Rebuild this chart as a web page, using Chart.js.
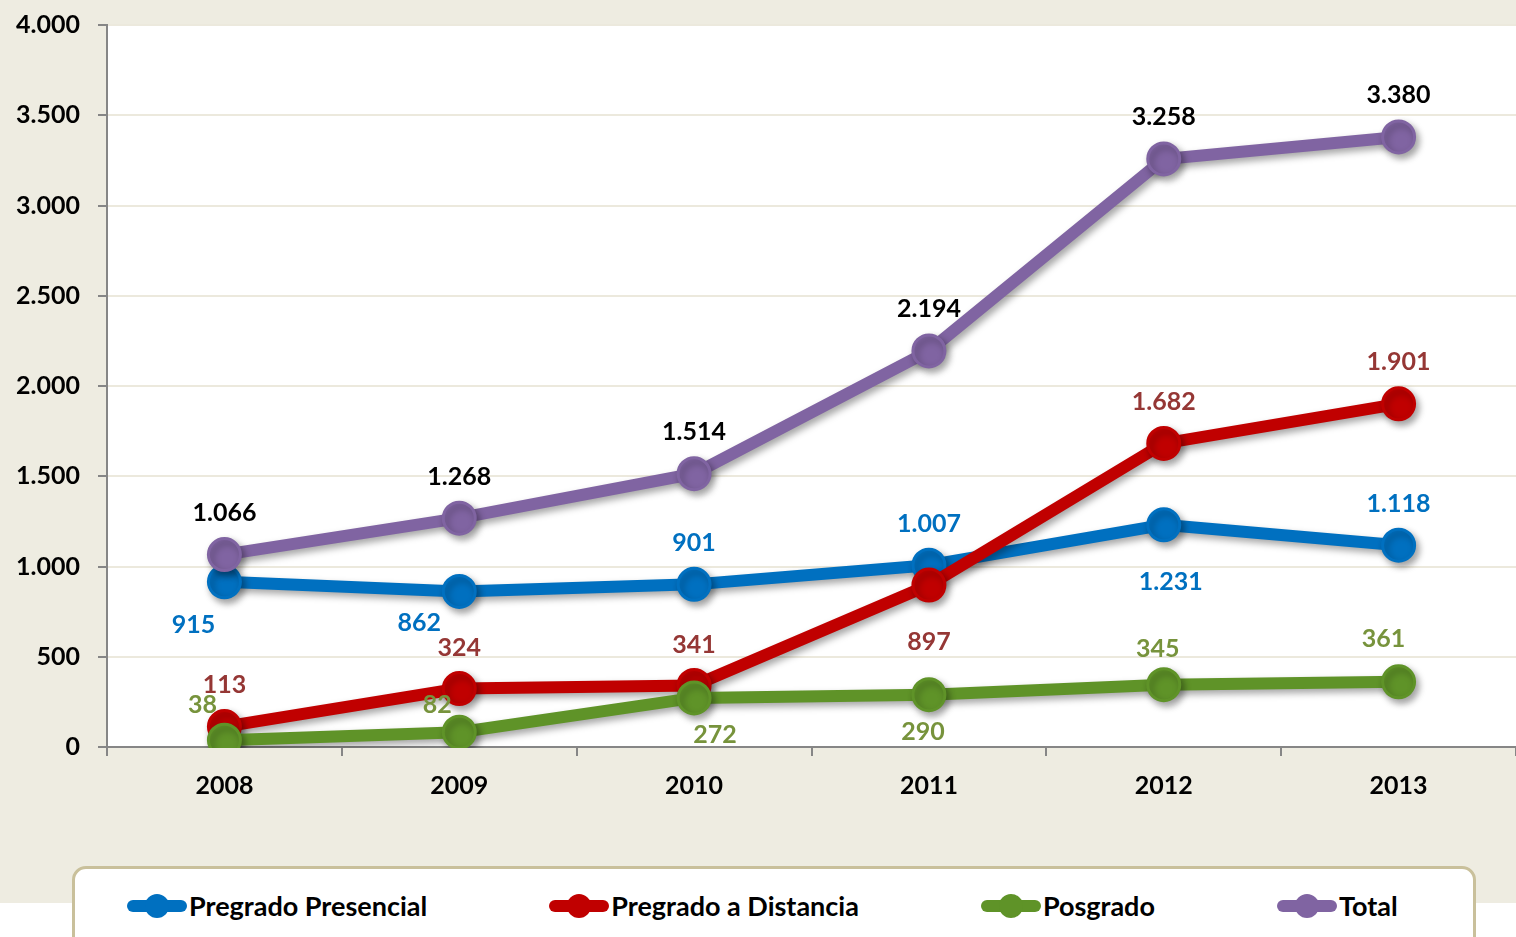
<!DOCTYPE html>
<html>
<head>
<meta charset="utf-8">
<script src="https://cdn.jsdelivr.net/npm/chart.js@4.4.0/dist/chart.umd.min.js"></script>
<style>
  body { margin: 0; background: #fff; font-family: Lato, sans-serif; }
  #wrap { position: relative; width: 1516px; height: 937px; overflow: hidden; }
  #bg { position: absolute; left: 0; top: 0; width: 1516px; height: 903px; background: #EEECE1; }
  #chart { position: absolute; left: 0; top: -8px; }
  #legend {
    position: absolute; left: 72px; top: 866px; width: 1404px; height: 110px;
    box-sizing: border-box; border: 3px solid #C9C09B; border-radius: 14px; background: #fff;
    display: flex; padding: 24px 0 0 52px; gap: 122px;
  }
  .item { display: flex; align-items: center; height: 26px; }
  .mark { position: relative; width: 60px; height: 26px; }
  .mark .ln { position: absolute; left: 0; top: 7px; width: 60px; height: 12px; border-radius: 6px; }
  .mark .dot { position: absolute; left: 18px; top: 1px; width: 24px; height: 24px; border-radius: 50%; }
  .item span.txt { margin-left: 2px; font: bold 27px Lato, sans-serif; color: #000; line-height: 26px; }
</style>
</head>
<body>
<div id="wrap">
  <div id="bg"></div>
  <canvas id="chart" width="1535" height="840"></canvas>
  <div id="legend"></div>
</div>
<script>
// chart data
var years = ['2008', '2009', '2010', '2011', '2012', '2013'];
var presencial = [915, 862, 901, 1007, 1231, 1118];
var distancia = [113, 324, 341, 897, 1682, 1901];
var posgrado = [38, 82, 272, 290, 345, 361];
var total = [1066, 1268, 1514, 2194, 3258, 3380];
var names = ['Pregrado Presencial', 'Pregrado a Distancia', 'Posgrado', 'Total'];
var yMin = 0, yMax = 4000, yStep = 500;

// look
var lineColors = ['#0070C0', '#C00000', '#5F9328', '#8064A2'];
var labelColors = ['#0070C0', '#953735', '#77933C', '#000000'];
// label offsets from each point [dx, dy]
var labelOffsets = [
  [[-31, 43], [-40, 32], [0, -41], [0, -41], [7, 57], [0, -41]],
  [[0, -42], [0, -41], [0, -41], [0, 57], [0, -41], [0, -42]],
  [[-22, -35], [-22, -27], [21, 37], [-6, 37], [-6, -36], [-15, -43]],
  [[0, -42], [0, -41], [0, -42], [0, -42], [0, -42], [0, -42]]
];

function fmt(v) {
  return String(v).replace(/\B(?=(\d{3})+(?!\d))/g, '.');
}

var seriesData = [presencial, distancia, posgrado, total];
var datasets = seriesData.map(function (d, i) {
  return {
    label: names[i],
    data: d,
    borderColor: lineColors[i],
    backgroundColor: lineColors[i],
    borderWidth: 12,
    pointRadius: 16,
    pointHoverRadius: 16,
    pointBorderWidth: 3,
    pointBorderColor: lineColors[i],
    pointBackgroundColor: lineColors[i],
    fill: false,
    tension: 0,
    order: 3 - i,
    clip: { left: 30, right: 30, top: 30, bottom: 1 }
  };
});

var plotBg = {
  id: 'plotBg',
  beforeDraw: function (chart) {
    var a = chart.chartArea, ctx = chart.ctx;
    ctx.save();
    ctx.fillStyle = '#fff';
    ctx.fillRect(a.left, a.top, a.right - a.left, a.bottom - a.top);
    ctx.restore();
  },
  beforeDatasetDraw: function (chart) {
    var ctx = chart.ctx;
    ctx.save();
    ctx.shadowColor = 'rgba(0,0,0,0.35)';
    ctx.shadowBlur = 7;
    ctx.shadowOffsetX = 3;
    ctx.shadowOffsetY = 4;
  },
  afterDatasetDraw: function (chart) {
    chart.ctx.restore();
  },
  afterDatasetsDraw: function (chart) {
    var ctx = chart.ctx;
    ctx.save();
    ctx.font = 'bold 25px Lato, sans-serif';
    ctx.textAlign = 'center';
    ctx.textBaseline = 'middle';
    chart.data.datasets.forEach(function (ds, i) {
      var meta = chart.getDatasetMeta(i);
      ctx.fillStyle = labelColors[i];
      meta.data.forEach(function (pt, j) {
        var off = labelOffsets[i][j];
        ctx.fillText(fmt(ds.data[j]), pt.x + off[0], pt.y + off[1]);
      });
    });
    ctx.restore();
  }
};

var config = {
  type: 'line',
  data: { labels: years, datasets: datasets },
  options: {
    responsive: false,
    animation: false,
    layout: { padding: { top: 18, left: 0, right: 0, bottom: 0 } },
    plugins: { legend: { display: false }, tooltip: { enabled: false } },
    scales: {
      x: {
        offset: true,
        grid: { offset: true, drawOnChartArea: false, tickLength: 9, tickColor: '#868686', lineWidth: 2 },
        border: { color: '#868686', width: 2 },
        ticks: { color: '#000', font: { family: 'Lato', size: 25, weight: 'bold' }, padding: 15 },
        afterFit: function (s) { s.height = 85; }
      },
      y: {
        min: yMin, max: yMax,
        grid: {
          color: function (c) { return c.tick && c.tick.value === 0 ? '#868686' : '#ECE9DD'; },
          lineWidth: 2, tickLength: 9, tickColor: '#868686'
        },
        border: { color: '#868686', width: 2 },
        ticks: {
          stepSize: yStep, color: '#000', padding: 18,
          font: { family: 'Lato', size: 25, weight: 'bold' },
          callback: function (v) { return fmt(v); }
        },
        afterFit: function (s) { s.width = 107; }
      }
    }
  },
  plugins: [plotBg]
};

// legend
var lg = document.getElementById('legend');
names.forEach(function (n, i) {
  var it = document.createElement('div');
  it.className = 'item';
  it.innerHTML = '<div class="mark"><div class="ln" style="background:' + lineColors[i] +
    '"></div><div class="dot" style="background:' + lineColors[i] + '"></div></div><span class="txt">' + n + '</span>';
  lg.appendChild(it);
});

window.onload = function () {
  var ctx = document.getElementById('chart').getContext('2d');
  window.myChart = new Chart(ctx, config);
};
</script>
</body>
</html>
